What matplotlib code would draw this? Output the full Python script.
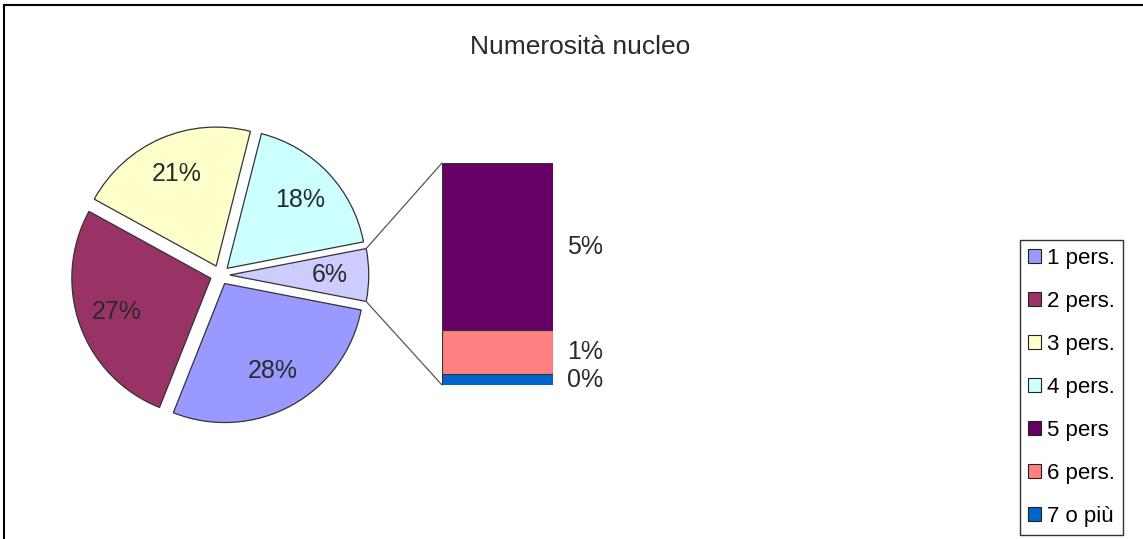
import matplotlib
matplotlib.use('Agg')
import numpy as np
import matplotlib.pyplot as plt
from matplotlib.patches import Patch, ConnectionPatch
from matplotlib.lines import Line2D

plt.rcParams['font.family'] = ['Liberation Sans', 'DejaVu Sans']

# data (percent of households by size)
categories = ['1 pers.', '2 pers.', '3 pers.', '4 pers.', '5 pers', '6 pers.', '7 o più']
values = [28.0, 27.0, 21.0, 18.0, 4.6, 1.2, 0.3]
colors = ['#9999FF', '#993366', '#FFFFCC', '#CCFFFF', '#660066', '#FF8080', '#0066CC']
other_color = '#CCCCFF'
title = 'Numerosità nucleo'

W, H = 1143, 539
fig = plt.figure(figsize=(W / 100, H / 100), dpi=100)
fig.patch.set_facecolor('white')

total = sum(values)
main_vals = values[:4]
rest_vals = values[4:]
other = sum(rest_vals)

# pie: "other" slice first, centred on the right
pie_vals = [other] + main_vals[::-1]
pie_cols = [other_color] + colors[:4][::-1]

cx, cy, rad = 220, 275, 139
S = 2.4 * rad
ax_pie = fig.add_axes([(cx - S / 2) / W, 1 - (cy + S / 2) / H, S / W, S / H])
wedges, _, autotexts = ax_pie.pie(
    pie_vals, colors=pie_cols, startangle=-180 * other / total, counterclock=True,
    explode=[0.07] * len(pie_vals), autopct=lambda p: f'{p:.0f}%', pctdistance=0.72,
    wedgeprops=dict(edgecolor='#333333', linewidth=0.9),
    textprops=dict(fontsize=18, color='#2a2a2a'))
ax_pie.set_xlim(-1.2, 1.2)
ax_pie.set_ylim(-1.2, 1.2)
ax_pie.set_aspect('equal')
ax_pie.axis('off')

# stacked bar for the small categories
bx0, bx1, by0, by1 = 442, 553, 163, 385
ax_bar = fig.add_axes([bx0 / W, 1 - by1 / H, (bx1 - bx0) / W, (by1 - by0) / H])
bottom = 0
for name, v, c in list(zip(categories[4:], rest_vals, colors[4:]))[::-1]:
    ax_bar.bar(0.5, v, width=1.0, bottom=bottom, color=c, edgecolor='#333333', linewidth=0.8)
    ax_bar.text(1.13, bottom + v / 2, f'{v / total * 100:.0f}%', fontsize=18,
                color='#2a2a2a', va='center', ha='left')
    bottom += v
ax_bar.set_xlim(0, 1)
ax_bar.set_ylim(0, other)
ax_bar.axis('off')

# connector lines from the "other" slice to the bar
w = wedges[0]
ox, oy = w.center
for ang, ytarget in [(w.theta2, other), (w.theta1, 0)]:
    px = ox + w.r * np.cos(np.radians(ang))
    py = oy + w.r * np.sin(np.radians(ang))
    con = ConnectionPatch(xyA=(px, py), coordsA=ax_pie.transData,
                          xyB=(0, ytarget), coordsB=ax_bar.transData,
                          color='#555555', linewidth=0.9)
    fig.add_artist(con)

fig.text(580 / W, 1 - 47 / H, title, fontsize=19, ha='center', va='center', color='#2a2a2a')

handles = [Patch(facecolor=c, edgecolor='#222222', linewidth=0.8) for c in colors]
leg = fig.legend(handles, categories, loc='upper left', bbox_to_anchor=(1020 / W, 1 - 240 / H),
                 fontsize=16, frameon=True, fancybox=False, handlelength=0.6, handleheight=0.6,
                 handletextpad=0.25, labelspacing=0.99, borderpad=0.36, borderaxespad=0)
leg.get_frame().set_edgecolor('black')
leg.get_frame().set_linewidth(1.0)

# outer chart border (left and top visible)
fig.add_artist(Line2D([3.5 / W, 3.5 / W], [0, 1 - 5 / H], color='black', linewidth=1.5))
fig.add_artist(Line2D([3.5 / W, 1], [1 - 5 / H, 1 - 5 / H], color='black', linewidth=1.5))

fig.savefig('out.png', dpi=100)
